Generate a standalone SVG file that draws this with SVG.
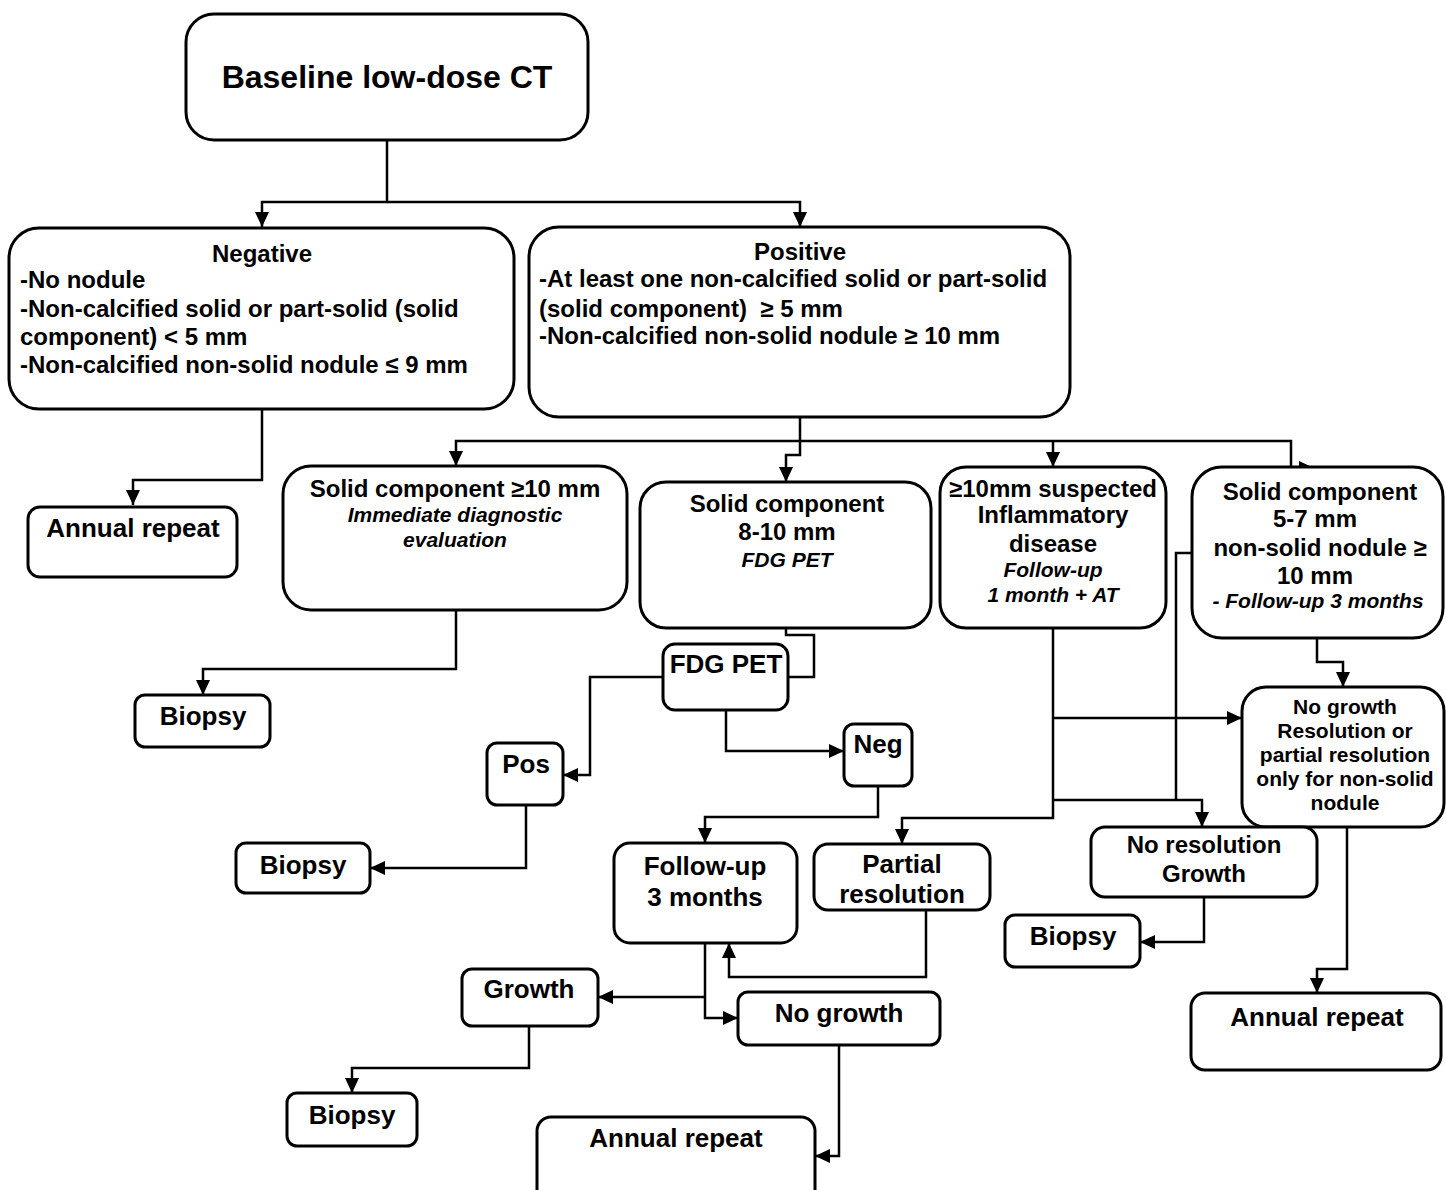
<svg xmlns="http://www.w3.org/2000/svg" width="1446" height="1190" viewBox="0 0 1446 1190">
  <style>
    .box { fill: #ffffff; stroke: #000000; stroke-width: 3; }
    .t { font-family: "Liberation Sans", Arial, sans-serif; font-weight: bold; fill: #000000; }
    .c { text-anchor: middle; }
    .s32 { font-size: 32px; }
    .s26 { font-size: 26px; }
    .s24 { font-size: 24px; }
    .s21 { font-size: 21px; }
    .it { font-style: italic; font-size: 21px; }
    .conn path { fill: none; stroke: #000000; stroke-width: 2.5; }
    .arr { marker-end: url(#head); }
  </style>
  <defs>
    <marker id="head" markerUnits="userSpaceOnUse" markerWidth="18" markerHeight="16" refX="15" refY="7" orient="auto">
      <path d="M0,0 L15,7 L0,14 z" fill="#000000"/>
    </marker>
  </defs>
  <rect width="1446" height="1190" fill="#ffffff"/>

  <!-- connectors -->
  <g class="conn">
    <path class="arr" d="M387,140 V202 H262 V227"/>
    <path class="arr" d="M387,202 H800 V227"/>
    <path class="arr" d="M262,409 V480 H133 V505"/>
    <path class="arr" d="M800,417 V441 H456 V466"/>
    <path class="arr" d="M800,441 V455 H786 V482"/>
    <path class="arr" d="M800,441 H1291 V468 H1314"/>
    <path class="arr" d="M1053,441 V467"/>
    <path class="arr" d="M456,610 V669 H203 V695"/>
    <path d="M786,628 V635 H814 V677 H788"/>
    <path class="arr" d="M663,677 H590 V775 H563"/>
    <path class="arr" d="M726,710 V751 H844"/>
    <path class="arr" d="M526,805 V868 H370"/>
    <path class="arr" d="M878,786 V817 H705 V843"/>
    <path class="arr" d="M1053,628 V818 H902 V844"/>
    <path class="arr" d="M1053,718 H1242"/>
    <path class="arr" d="M1053,800 H1202 V827"/>
    <path d="M1192,553 H1176 V800"/>
    <path class="arr" d="M1317,638 V662 H1343 V687"/>
    <path class="arr" d="M1204,897 V942 H1140"/>
    <path class="arr" d="M1347,827 V969 H1317 V993"/>
    <path class="arr" d="M705,943 V1018 H738"/>
    <path class="arr" d="M705,997 H598"/>
    <path class="arr" d="M926,910 V977 H729 V943"/>
    <path class="arr" d="M529,1026 V1068 H352 V1093"/>
    <path class="arr" d="M839,1045 V1156 H815"/>
  </g>

  <g id="baseline">
    <rect class="box" x="186" y="14" width="402" height="126" rx="28"/>
    <text class="t c s32" x="387" y="88">Baseline low-dose CT</text>
  </g>

  <g id="negative">
    <rect class="box" x="9" y="228" width="505" height="181" rx="30"/>
    <text class="t c s24" x="262" y="262">Negative</text>
    <text class="t s24" x="20" y="288">-No nodule</text>
    <text class="t s24" x="20" y="317">-Non-calcified solid or part-solid (solid</text>
    <text class="t s24" x="20" y="345">component) &lt; 5 mm</text>
    <text class="t s24" x="20" y="373">-Non-calcified non-solid nodule ≤ 9 mm</text>
  </g>

  <g id="positive">
    <rect class="box" x="529" y="227" width="541" height="190" rx="30"/>
    <text class="t c s24" x="800" y="260">Positive</text>
    <text class="t s24" x="539" y="287">-At least one non-calcified solid or part-solid</text>
    <text class="t s24" x="539" y="317">(solid component) &#160;≥ 5 mm</text>
    <text class="t s24" x="539" y="344">-Non-calcified non-solid nodule ≥ 10 mm</text>
  </g>

  <g id="annual-repeat-1">
    <rect class="box" x="28" y="507" width="209" height="70" rx="12"/>
    <text class="t c s26" x="133" y="537">Annual repeat</text>
  </g>

  <g id="solid-10">
    <rect class="box" x="283" y="466" width="344" height="144" rx="28"/>
    <text class="t c s24" x="455" y="497">Solid component ≥10 mm</text>
    <text class="t c it" x="455" y="522">Immediate diagnostic</text>
    <text class="t c it" x="455" y="547">evaluation</text>
  </g>

  <g id="solid-8-10">
    <rect class="box" x="640" y="482" width="291" height="146" rx="26"/>
    <text class="t c s24" x="787" y="512">Solid component</text>
    <text class="t c s24" x="787" y="540">8-10 mm</text>
    <text class="t c it" x="787" y="567">FDG PET</text>
  </g>

  <g id="inflammatory">
    <rect class="box" x="940" y="467" width="226" height="161" rx="26"/>
    <text class="t c s24" x="1053" y="497">≥10mm suspected</text>
    <text class="t c s24" x="1053" y="523">Inflammatory</text>
    <text class="t c s24" x="1053" y="552">disease</text>
    <text class="t c it" x="1053" y="577">Follow-up</text>
    <text class="t c it" x="1053" y="602">1 month + AT</text>
  </g>

  <g id="solid-5-7">
    <rect class="box" x="1192" y="467" width="251" height="171" rx="30"/>
    <text class="t c s24" x="1320" y="500">Solid component</text>
    <text class="t c s24" x="1315" y="527">5-7 mm</text>
    <text class="t c s24" x="1320" y="556">non-solid nodule ≥</text>
    <text class="t c s24" x="1315" y="584">10 mm</text>
    <text class="t c it" x="1318" y="608">- Follow-up 3 months</text>
  </g>

  <g id="biopsy-1">
    <rect class="box" x="135" y="695" width="135" height="52" rx="10"/>
    <text class="t c s26" x="203" y="725">Biopsy</text>
  </g>

  <g id="fdg-pet">
    <rect class="box" x="663" y="644" width="125" height="66" rx="12"/>
    <text class="t c s26" x="726" y="673">FDG PET</text>
  </g>

  <g id="pos">
    <rect class="box" x="487" y="743" width="76" height="62" rx="10"/>
    <text class="t c s26" x="526" y="773">Pos</text>
  </g>

  <g id="neg">
    <rect class="box" x="844" y="724" width="68" height="62" rx="10"/>
    <text class="t c s26" x="878" y="753">Neg</text>
  </g>

  <g id="biopsy-2">
    <rect class="box" x="236" y="843" width="134" height="50" rx="10"/>
    <text class="t c s26" x="303" y="874">Biopsy</text>
  </g>

  <g id="follow-up-3">
    <rect class="box" x="614" y="843" width="183" height="100" rx="16"/>
    <text class="t c s26" x="705" y="875">Follow-up</text>
    <text class="t c s26" x="705" y="906">3 months</text>
  </g>

  <g id="partial-resolution">
    <rect class="box" x="814" y="844" width="176" height="66" rx="14"/>
    <text class="t c s26" x="902" y="873">Partial</text>
    <text class="t c s26" x="902" y="903">resolution</text>
  </g>

  <g id="no-growth-resolution">
    <rect class="box" x="1242" y="687" width="202" height="140" rx="24"/>
    <text class="t c s21" x="1345" y="714">No growth</text>
    <text class="t c s21" x="1345" y="738">Resolution or</text>
    <text class="t c s21" x="1345" y="762">partial resolution</text>
    <text class="t c s21" x="1345" y="786">only for non-solid</text>
    <text class="t c s21" x="1345" y="810">nodule</text>
  </g>

  <g id="no-resolution">
    <rect class="box" x="1091" y="827" width="226" height="70" rx="14"/>
    <text class="t c s24" x="1204" y="853">No resolution</text>
    <text class="t c s24" x="1204" y="882">Growth</text>
  </g>

  <g id="biopsy-3">
    <rect class="box" x="1005" y="915" width="135" height="52" rx="10"/>
    <text class="t c s26" x="1073" y="945">Biopsy</text>
  </g>

  <g id="annual-repeat-3">
    <rect class="box" x="1191" y="993" width="250" height="77" rx="14"/>
    <text class="t c s26" x="1317" y="1026">Annual repeat</text>
  </g>

  <g id="growth">
    <rect class="box" x="462" y="969" width="136" height="57" rx="10"/>
    <text class="t c s26" x="529" y="998">Growth</text>
  </g>

  <g id="no-growth">
    <rect class="box" x="738" y="992" width="202" height="53" rx="10"/>
    <text class="t c s26" x="839" y="1022">No growth</text>
  </g>

  <g id="biopsy-4">
    <rect class="box" x="287" y="1093" width="130" height="53" rx="10"/>
    <text class="t c s26" x="352" y="1124">Biopsy</text>
  </g>

  <g id="annual-repeat-2">
    <rect class="box" x="537" y="1117" width="278" height="90" rx="14"/>
    <text class="t c s26" x="676" y="1147">Annual repeat</text>
  </g>
</svg>
